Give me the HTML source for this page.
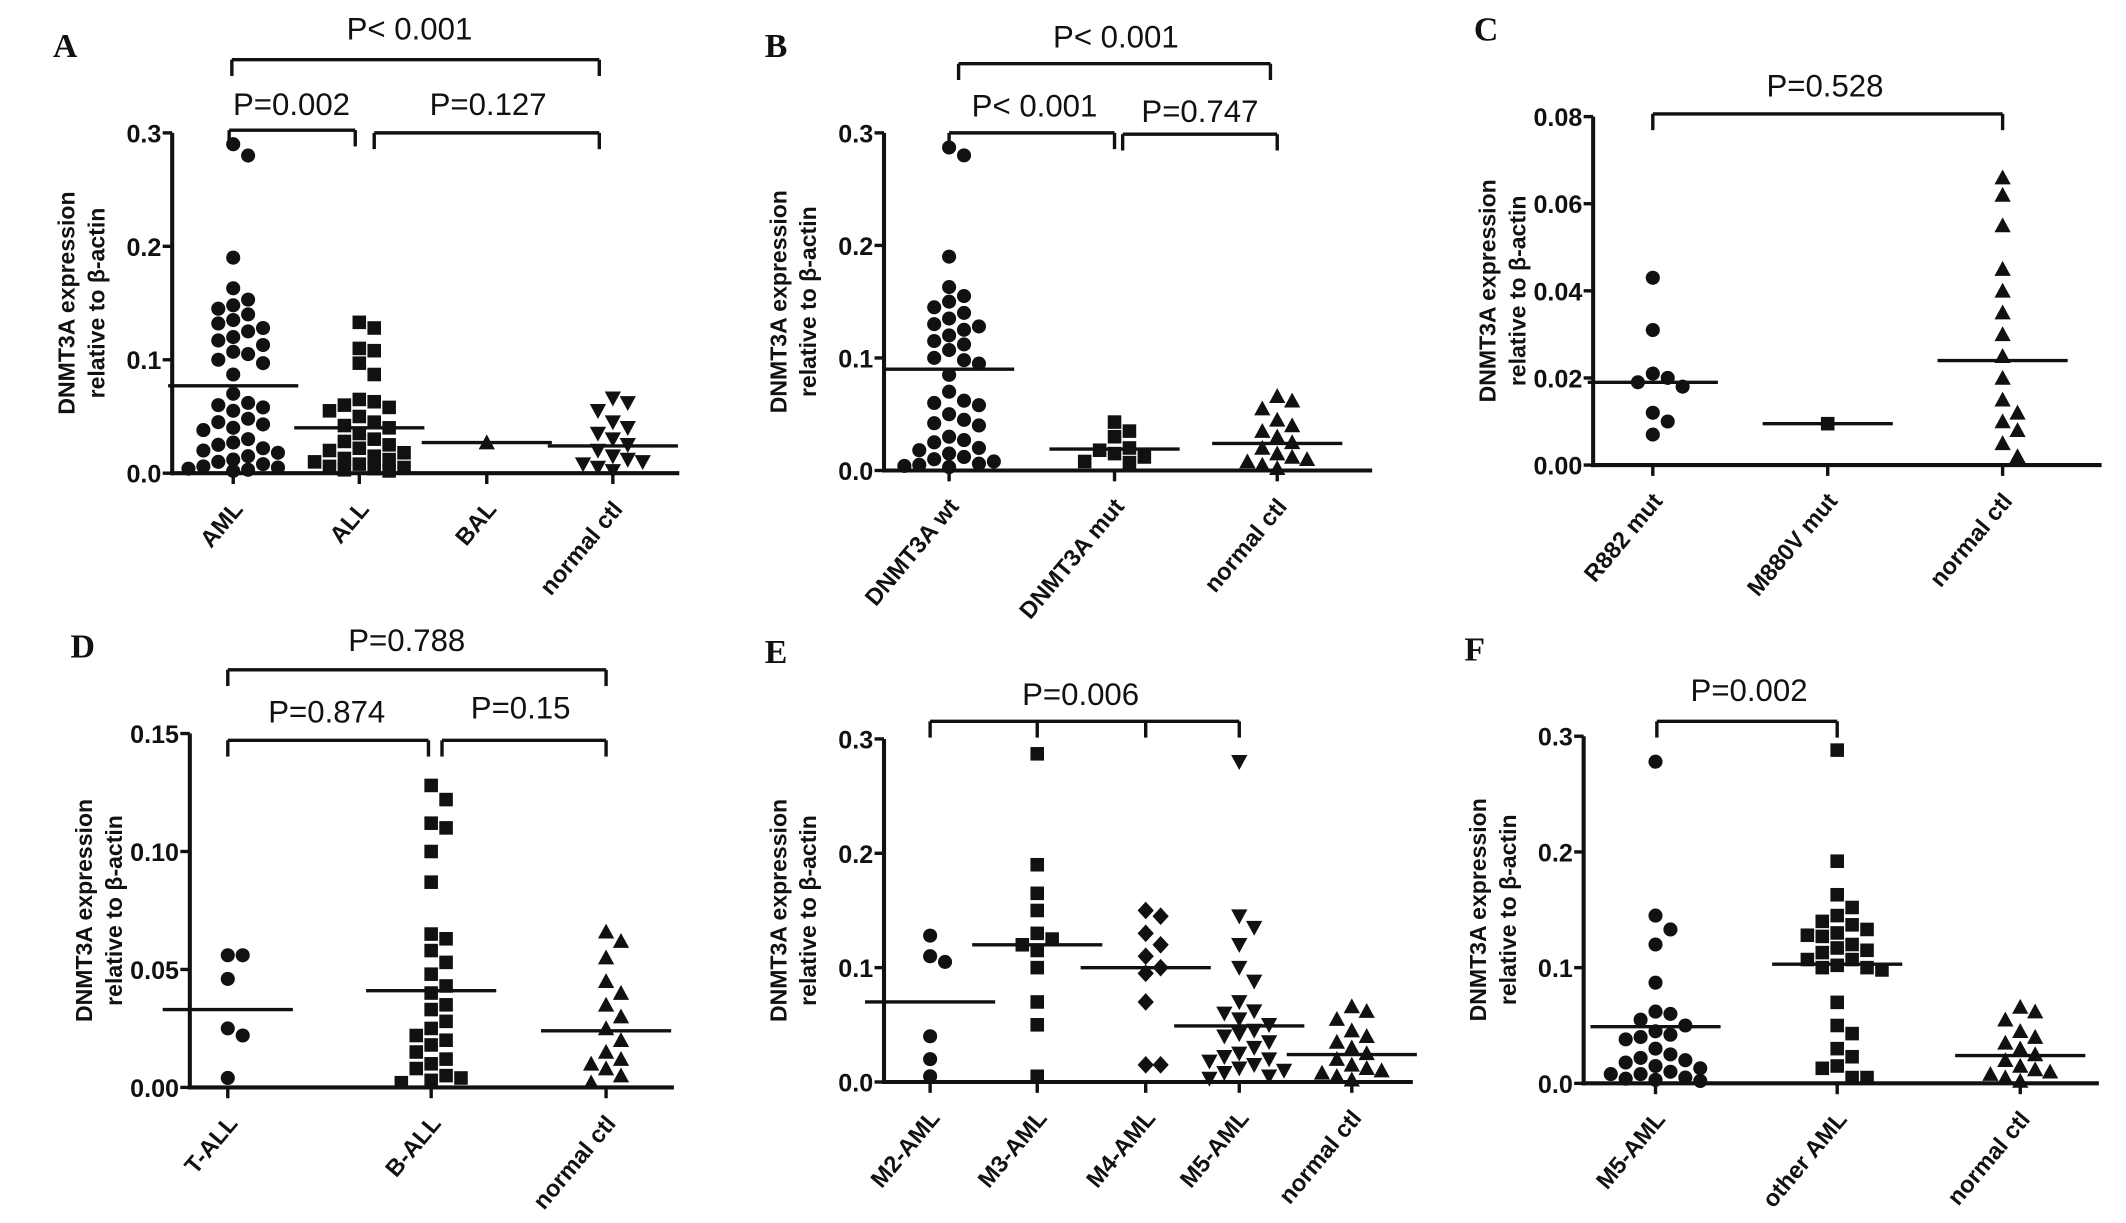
<!DOCTYPE html>
<html><head><meta charset="utf-8"><style>
html,body{margin:0;padding:0;background:#fff}
svg{display:block}
text{font-family:"Liberation Sans",sans-serif;fill:#111}
</style></head><body>
<svg id="fig" width="2126" height="1223" viewBox="0 0 1568 902" preserveAspectRatio="none" xmlns="http://www.w3.org/2000/svg"></svg>
<script>
// ---- data ----
const normalCtl = [0.066,0.062,0.055,0.045,0.04,0.035,0.03,0.025,0.02,0.015,0.012,0.01,0.008,0.005,0.002];
const aCats = ["AML","ALL","BAL","normal ctl"];
const aAML = [0.29,0.28,0.19,0.163,0.153,0.148,0.145,0.14,0.135,0.132,0.128,0.125,0.12,0.117,0.113,0.107,0.105,0.1,0.097,0.087,0.07,0.062,0.06,0.058,0.055,0.048,0.045,0.043,0.04,0.038,0.03,0.027,0.025,0.022,0.02,0.018,0.015,0.012,0.01,0.008,0.006,0.005,0.004,0.003,0.002];
const aALL = [0.133,0.128,0.11,0.108,0.097,0.087,0.065,0.063,0.06,0.058,0.055,0.05,0.045,0.042,0.04,0.035,0.03,0.028,0.025,0.022,0.02,0.018,0.015,0.013,0.012,0.01,0.008,0.006,0.005,0.004,0.003,0.002];
const aBAL = [0.027];
const aMed = [0.077,0.04,0.027,0.024];
const bCats = ["DNMT3A wt","DNMT3A mut","normal ctl"];
const bWT = [0.287,0.28,0.19,0.163,0.155,0.15,0.145,0.14,0.135,0.13,0.128,0.125,0.12,0.115,0.112,0.107,0.1,0.098,0.095,0.085,0.07,0.062,0.06,0.058,0.05,0.045,0.042,0.04,0.03,0.027,0.025,0.02,0.018,0.015,0.012,0.01,0.008,0.006,0.005,0.004,0.003];
const bMUT = [0.043,0.035,0.03,0.02,0.018,0.015,0.012,0.008,0.007];
const bMed = [0.09,0.019,0.024];
const cCats = ["R882 mut","M880V mut","normal ctl"];
const cR882 = [0.043,0.031,0.021,0.02,0.019,0.018,0.012,0.01,0.007];
const cM880 = [0.0095];
const cMed = [0.019,0.0095,0.024];
const dCats = ["T-ALL","B-ALL","normal ctl"];
const dT = [0.056,0.056,0.046,0.025,0.022,0.004];
const dB = [0.128,0.122,0.112,0.11,0.1,0.087,0.065,0.063,0.058,0.053,0.048,0.043,0.04,0.035,0.033,0.028,0.025,0.022,0.02,0.018,0.015,0.012,0.01,0.008,0.005,0.004,0.003,0.002];
const dMed = [0.033,0.041,0.024];
const eCats = ["M2-AML","M3-AML","M4-AML","M5-AML","normal ctl"];
const eM2 = [0.128,0.11,0.105,0.04,0.02,0.005];
const eM3 = [0.287,0.19,0.165,0.15,0.13,0.125,0.12,0.115,0.1,0.07,0.05,0.005];
const eM4 = [0.15,0.145,0.13,0.12,0.11,0.1,0.095,0.07,0.015,0.015];
const eM5 = [0.28,0.145,0.135,0.12,0.1,0.088,0.07,0.062,0.06,0.055,0.05,0.045,0.042,0.04,0.035,0.03,0.025,0.022,0.02,0.018,0.015,0.012,0.01,0.008,0.005,0.003];
const eMed = [0.07,0.12,0.1,0.049,0.024];
const fCats = ["M5-AML","other AML","normal ctl"];
const fM5 = [0.278,0.145,0.133,0.12,0.087,0.062,0.06,0.055,0.05,0.045,0.042,0.04,0.038,0.03,0.025,0.022,0.02,0.018,0.015,0.013,0.01,0.008,0.008,0.005,0.004,0.003,0.002];
const fOther = [0.288,0.192,0.163,0.152,0.145,0.14,0.137,0.133,0.13,0.128,0.127,0.12,0.117,0.115,0.113,0.107,0.107,0.102,0.1,0.1,0.098,0.07,0.05,0.043,0.03,0.023,0.015,0.013,0.005,0.005];
const fMed = [0.049,0.103,0.024];
const ticks3 = ["0.0","0.1","0.2","0.3"];
const ticksC = ["0.00","0.02","0.04","0.06","0.08"];
const ticksD = ["0.00","0.05","0.10","0.15"];

// ---- drawing ----
const NS="http://www.w3.org/2000/svg", svg=document.getElementById('fig');
function el(tag,attrs,parent){const e=document.createElementNS(NS,tag);for(const k in attrs)e.setAttribute(k,attrs[k]);(parent||svg).appendChild(e);return e;}
function marker(g,shape,x,y){
  let m;
  if(shape==='c') m=el('circle',{cx:x,cy:y,r:5.2},g);
  else if(shape==='s') m=el('rect',{x:x-5,y:y-5,width:10,height:10},g);
  else if(shape==='t') m=el('polygon',{points:`${x},${y-6} ${x-6},${y+5} ${x+6},${y+5}`},g);
  else if(shape==='v') m=el('polygon',{points:`${x},${y+6} ${x-6},${y-5} ${x+6},${y-5}`},g);
  else m=el('polygon',{points:`${x},${y-6.5} ${x+6},${y} ${x},${y+6.5} ${x-6},${y}`},g);
  m.setAttribute('fill','#111');
  
  
}
function swarm(vals,yf,cx,d){
  const placed=[];const out=[];const maxOff=42;
  vals.slice().sort((a,b)=>b-a).forEach(v=>{
    const y=yf(v);
    let best=null,bestScore=1e9;
    for(let k=0;k<30;k++){
      const off=(k%2?1:-1)*Math.ceil(k/2)*d;
      if(Math.abs(off)>maxOff) break;
      const x=cx+off;
      const minD=placed.reduce((m,p)=>Math.min(m,Math.hypot(p[0]-x,p[1]-y)),1e9);
      if(minD>=d*0.95){best=x;break;}
      const score=-minD;
      if(score<bestScore){bestScore=score;best=x;}
    }
    placed.push([best,y]);out.push([best,y]);
  });
  return out;
}
function panel(o){
  const g=el('g',{});
  
  
  const yf=v=>o.y0-(v/o.max)*(o.y0-o.y1);
  const pl=el('text',{x:o.ax-88,y:o.y1-56,'font-size':25,'font-weight':'bold',style:'font-family:"Liberation Serif",serif'},g);
  pl.textContent=o.letter;
  el('line',{x1:o.ax,y1:o.y1,x2:o.ax,y2:o.y0+1.5,stroke:'#111','stroke-width':3},g);
  el('line',{x1:o.ax-1.5,y1:o.y0,x2:o.xend,y2:o.y0,stroke:'#111','stroke-width':3},g);
  o.ticks.forEach((t,i)=>{
    const v=o.max*i/(o.ticks.length-1), y=yf(v);
    el('line',{x1:o.ax-7,y1:y,x2:o.ax,y2:y,stroke:'#111','stroke-width':2.5},g);
    const tx=el('text',{x:o.ax-8,y:y+7,'font-size':18.5,'font-weight':'bold','text-anchor':'end'},g);
    tx.textContent=t;
  });
  const yl=el('text',{transform:`translate(${o.ax-72},${(o.y0+o.y1)/2}) rotate(-90)`,'font-size':17,'font-weight':'bold','text-anchor':'middle'},g);
  
  el('tspan',{x:0,dy:0},yl).textContent='DNMT3A expression';
  el('tspan',{x:0,dy:22},yl).textContent='relative to β-actin';
  o.cats.forEach((c,i)=>{
    const x=o.cx[i];
    el('line',{x1:x,y1:o.y0,x2:x,y2:o.y0+8,stroke:'#111','stroke-width':2.5},g);
    const t=el('text',{transform:`translate(${x+8},${o.y0+27}) rotate(-50)`,'font-size':17.5,'font-weight':'bold','text-anchor':'end'},g);
    t.textContent=c;
    swarm(o.series[i],yf,x,11).forEach(p=>marker(g,o.shapes[i],p[0],p[1]));
    const ml=el('line',{x1:x-48,y1:yf(o.med[i]),x2:x+48,y2:yf(o.med[i]),stroke:'#111','stroke-width':2.5},g);
    
  });
  o.brackets.forEach(b=>{
    const p=b.xs;
    el('line',{x1:p[0],y1:b.y,x2:p[p.length-1],y2:b.y,stroke:'#111','stroke-width':2.5},g);
    p.forEach(x=>el('line',{x1:x,y1:b.y,x2:x,y2:b.y+12,stroke:'#111','stroke-width':2.5},g));
    const t=el('text',{x:b.tx,y:b.ty,'font-size':23,'text-anchor':'middle'},g);
    t.textContent=b.label;
  });
}
panel({letter:'A',ax:127,y0:349,y1:98,xend:501,max:0.3,ticks:ticks3,cats:aCats,cx:[172,265,359,452],
  series:[aAML,aALL,aBAL,normalCtl],shapes:['c','s','t','v'],med:aMed,
  brackets:[{xs:[171,442],y:44,label:'P< 0.001',tx:302,ty:29},{xs:[169,262],y:96,label:'P=0.002',tx:215,ty:85},{xs:[276,442],y:98,label:'P=0.127',tx:360,ty:85}]});
panel({letter:'B',ax:652,y0:347,y1:98,xend:1012,max:0.3,ticks:ticks3,cats:bCats,cx:[700,822,942],
  series:[bWT,bMUT,normalCtl],shapes:['c','s','t'],med:bMed,
  brackets:[{xs:[707,937],y:47,label:'P< 0.001',tx:823,ty:35},{xs:[700,822],y:98,label:'P< 0.001',tx:763,ty:86},{xs:[828,942],y:99,label:'P=0.747',tx:885,ty:90}]});
panel({letter:'C',ax:1175,y0:343,y1:86,xend:1550,max:0.08,ticks:ticksC,cats:cCats,cx:[1219,1348,1477],
  series:[cR882,cM880,normalCtl],shapes:['c','s','t'],med:cMed,
  brackets:[{xs:[1219,1477],y:84,label:'P=0.528',tx:1346,ty:71}]});
panel({letter:'D',ax:140,y0:802,y1:541,xend:497,max:0.15,ticks:ticksD,cats:dCats,cx:[168,318,447],
  series:[dT,dB,normalCtl],shapes:['c','s','t'],med:dMed,
  brackets:[{xs:[168,447],y:494,label:'P=0.788',tx:300,ty:480},{xs:[168,316],y:546,label:'P=0.874',tx:241,ty:533},{xs:[326,447],y:546,label:'P=0.15',tx:384,ty:530}]});
panel({letter:'E',ax:652,y0:798,y1:545,xend:1042,max:0.3,ticks:ticks3,cats:eCats,cx:[686,765,845,914,997],
  series:[eM2,eM3,eM4,eM5,normalCtl],shapes:['c','s','d','v','t'],med:eMed,
  brackets:[{xs:[686,765,845,914],y:532,label:'P=0.006',tx:797,ty:520}]});
panel({letter:'F',ax:1168,y0:799,y1:543,xend:1548,max:0.3,ticks:ticks3,cats:fCats,cx:[1221,1355,1490],
  series:[fM5,fOther,normalCtl],shapes:['c','s','t'],med:fMed,
  brackets:[{xs:[1222,1355],y:532,label:'P=0.002',tx:1290,ty:517}]});
</script>
</body></html>
